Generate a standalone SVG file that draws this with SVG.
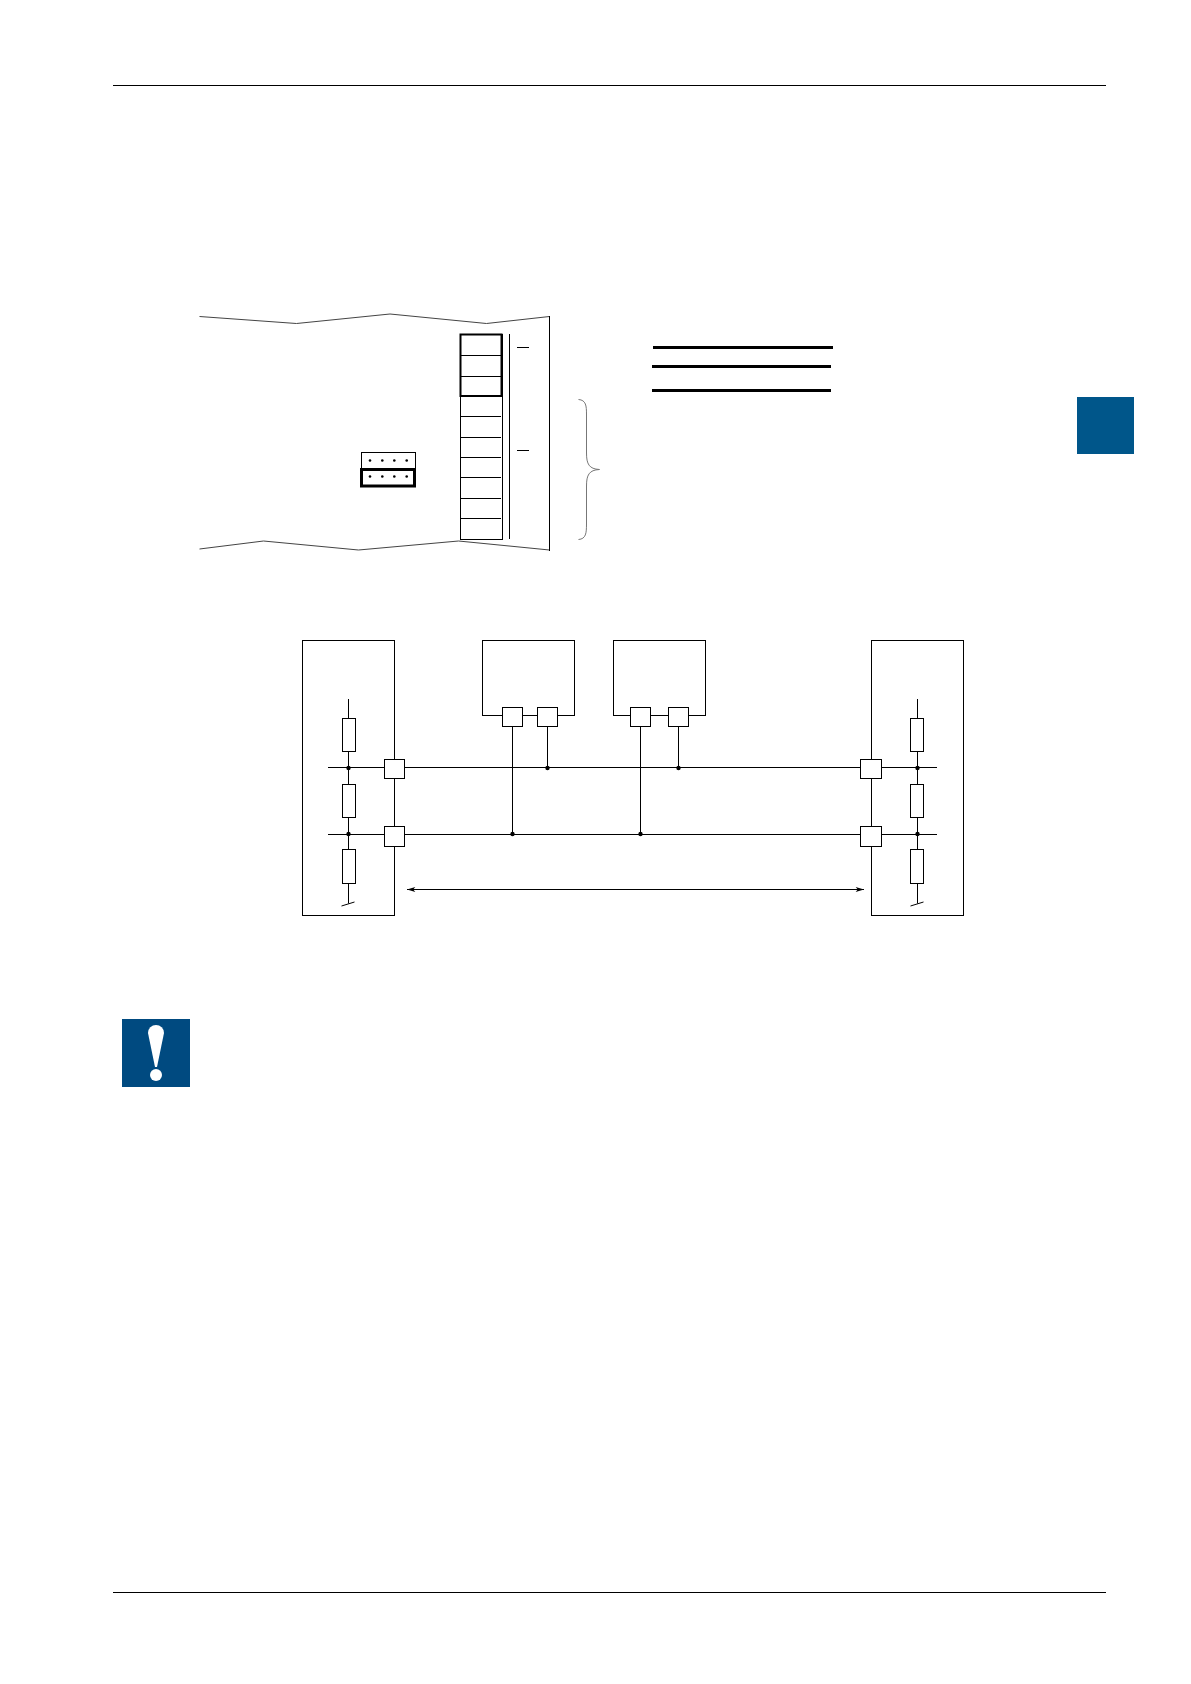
<svg xmlns="http://www.w3.org/2000/svg" width="1191" height="1684" viewBox="0 0 1191 1684">
<defs>
<style>
.l{fill:none;stroke:#000;stroke-width:1}
.w{fill:#fff;stroke:#000;stroke-width:1}
.t{fill:none;stroke:#000;stroke-width:3}
.d{fill:#000}
.wave{fill:none;stroke:#444;stroke-width:1}
</style>
<marker id="ah" viewBox="0 0 10 6" refX="10" refY="3" markerWidth="9" markerHeight="5" markerUnits="userSpaceOnUse" orient="auto-start-reverse"><path d="M0 0L10 3L0 6L2.5 3Z" fill="#000"/></marker>
</defs>
<rect width="1191" height="1684" fill="#fff"/>
<g id="page-rules">
<line class="l" x1="113" y1="85.500" x2="1106" y2="85.500"/>
<line class="l" x1="113" y1="1592.500" x2="1106" y2="1592.500"/>
</g>
<rect id="chapter-tab" x="1077" y="397" width="57" height="57" fill="#00568a"/>
<g id="board">
<path class="wave" d="M199.500 316.500L296.500 323.500L390 314L486.500 323.500L549.500 316.500"/>
<path class="wave" d="M199.500 549L263.500 541L358.500 550L458.500 541L549.500 550"/>
<line class="l" x1="549.500" y1="316" x2="549.500" y2="551"/>
</g>
<g id="terminal-strip">
<rect class="w" x="460.500" y="334.500" width="42" height="205"/>
<path class="l" d="M460.500 355.500H501M460.500 376.500H501M460.500 416.500H501M460.500 437.500H501M460.500 457.500H501M460.500 477.500H501M460.500 498.500H501M460.500 518.500H501"/>
<rect x="460.500" y="334.500" width="41" height="61.500" fill="none" stroke="#000" stroke-width="2"/>
<line class="l" x1="509.500" y1="334" x2="509.500" y2="539"/>
<path class="l" d="M517 347.500H529M517 450.500H529"/>
</g>
<g id="jumper">
<rect class="w" x="361.500" y="452.500" width="54" height="16"/>
<rect x="361.500" y="469.500" width="53" height="16.500" fill="#fff" stroke="#000" stroke-width="3"/>
<g class="d"><circle cx="370" cy="460.500" r="1.300"/><circle cx="382.300" cy="460.500" r="1.300"/><circle cx="394.300" cy="460.500" r="1.300"/><circle cx="406.700" cy="460.500" r="1.300"/><circle cx="370" cy="476.500" r="1.300"/><circle cx="382.300" cy="476.500" r="1.300"/><circle cx="394.300" cy="476.500" r="1.300"/><circle cx="406.700" cy="476.500" r="1.300"/></g>
</g>
<path id="brace" d="M578.500 399.500C586 400 586.500 406 586.500 414V453C586.500 464 589 469 599.500 469.500C589 470 586.500 475 586.500 486V524C586.500 533 586 539 578.500 539.500" fill="none" stroke="#777" stroke-width="1"/>
<g id="legend-lines">
<line class="t" x1="653" y1="347.500" x2="833" y2="347.500"/>
<line class="t" x1="652" y1="366.500" x2="831" y2="366.500"/>
<line class="t" x1="652" y1="390.500" x2="831" y2="390.500"/>
</g>
<g id="station-left">
<rect class="l" x="302.500" y="640.500" width="92" height="275"/>
</g>
<g id="station-a">
<rect class="l" x="482.500" y="640.500" width="92" height="75"/>
<rect class="w" x="502.500" y="707.500" width="20" height="19"/>
<rect class="w" x="537.500" y="707.500" width="20" height="19"/>
</g>
<g id="station-b">
<rect class="l" x="613.500" y="640.500" width="92" height="75"/>
<rect class="w" x="630.500" y="707.500" width="20" height="19"/>
<rect class="w" x="668.500" y="707.500" width="20" height="19"/>
</g>
<g id="station-right">
<rect class="l" x="871.500" y="640.500" width="92" height="275"/>
</g>
<g id="connectors">
<path class="l" d="M328 767.500H384.500M404.500 767.500H860.500M881.500 767.500H937"/>
<path class="l" d="M328 834.500H384.500M404.500 834.500H860.500M881.500 834.500H937"/>
<path class="l" d="M512.500 726.500V834.500M547.500 726.500V767.500M640.500 726.500V834.500M678.500 726.500V767.500"/>
<path class="l" d="M348.500 699V903.500M917.500 699V903.500"/>
<path class="l" d="M341.500 906L354.500 902M910.500 906L923.500 902"/>
<line class="l" x1="407" y1="889.500" x2="864" y2="889.500" marker-start="url(#ah)" marker-end="url(#ah)"/>
<g class="d"><circle cx="348.500" cy="768" r="2.200"/><circle cx="348.500" cy="834" r="2.200"/><circle cx="512.500" cy="834" r="2.200"/><circle cx="547.500" cy="768" r="2.200"/><circle cx="640.500" cy="834" r="2.200"/><circle cx="678.500" cy="768" r="2.200"/><circle cx="917.500" cy="768" r="2.200"/><circle cx="917.500" cy="834" r="2.200"/></g>
</g>
<g id="resistors-left">
<rect class="w" x="342.500" y="718.500" width="13" height="33"/>
<rect class="w" x="342.500" y="784.500" width="13" height="33"/>
<rect class="w" x="342.500" y="849.500" width="13" height="34"/>
</g>
<g id="resistors-right">
<rect class="w" x="910.500" y="718.500" width="13" height="33"/>
<rect class="w" x="910.500" y="784.500" width="13" height="33"/>
<rect class="w" x="910.500" y="849.500" width="13" height="34"/>
</g>
<g id="bus-ports">
<rect class="w" x="384.500" y="759.500" width="20" height="19"/>
<rect class="w" x="384.500" y="826.500" width="20" height="20"/>
<rect class="w" x="860.500" y="759.500" width="21" height="19"/>
<rect class="w" x="860.500" y="826.500" width="21" height="20"/>
</g>
<g id="warning-icon">
<rect x="122" y="1019" width="68" height="68" fill="#004a80"/>
<path d="M148 1033A8 8 0 0 1 164 1033L157 1067H155Z" fill="#fff"/>
<circle cx="156" cy="1075" r="6" fill="#fff"/>
</g>
</svg>
